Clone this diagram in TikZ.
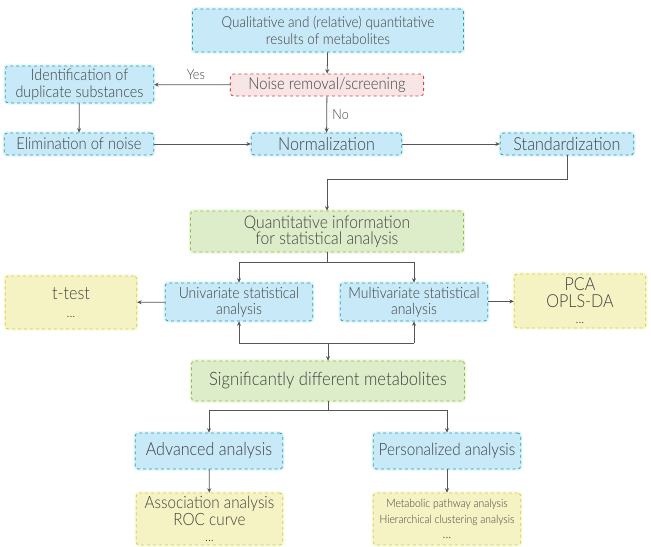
\documentclass[tikz,border=0pt]{standalone}
\usepackage{fontspec}
\setmainfont{Lato Light}[FakeStretch=0.9]
\usepackage{xcolor}
\definecolor{txtgray}{HTML}{404040}
\definecolor{linegray}{HTML}{555555}
\definecolor{bluefill}{HTML}{C8E9F8}
\definecolor{blueline}{HTML}{22A3AA}
\definecolor{greenfill}{HTML}{DDEDC9}
\definecolor{greenline}{HTML}{86C23A}
\definecolor{yellowfill}{HTML}{F5F3C3}
\definecolor{yellowline}{HTML}{CDD236}
\definecolor{redfill}{HTML}{F8E6E6}
\definecolor{redline}{HTML}{DD3A44}
\usetikzlibrary{arrows.meta,positioning}
\newcommand{\moredots}{{\fontsize{14}{14}\selectfont...}}

\begin{document}
\begin{tikzpicture}[x=1bp, y=-1bp,
    >={Stealth[length=4.5pt,width=4pt]},
    box/.style={rounded corners=3pt, dashed, line width=0.8pt, align=center,
        inner sep=1pt, text=txtgray},
    bluebox/.style={box, draw=blueline, fill=bluefill,
        preaction={draw=bluefill!55, solid, line width=3.5pt}},
    greenbox/.style={box, draw=greenline, fill=greenfill,
        preaction={draw=greenfill!55, solid, line width=3.5pt}},
    yellowbox/.style={box, draw=yellowline, fill=yellowfill,
        preaction={draw=yellowfill!55, solid, line width=3.5pt}},
    redbox/.style={box, draw=redline, fill=redfill},
    arr/.style={->, linegray, line width=0.8pt},
    lbl/.style={text=txtgray, font=\fontsize{14}{16}\selectfont}]
    \useasboundingbox (0,0) rectangle (651,547);
    % data preprocessing
    \node[bluebox, minimum width=272, minimum height=43,
        font=\fontsize{15}{16.5}\selectfont] (top) at (328,30.5)
        {Qualitative and (relative) quantitative\\results of metabolites};
    \node[redbox, minimum width=194, minimum height=22,
        font=\fontsize{16.5}{18}\selectfont] (noise) at (327,85)
        {Noise removal/screening};
    \node[bluebox, minimum width=149, minimum height=37,
        font=\fontsize{16}{17}\selectfont] (ident) at (79.5,84.5)
        {Identification of\\duplicate substances};
    \node[bluebox, minimum width=150, minimum height=22,
        font=\fontsize{16.5}{18}\selectfont] (elim) at (79,144)
        {Elimination of noise};
    \node[bluebox, minimum width=151, minimum height=22,
        font=\fontsize{18}{19}\selectfont] (norm) at (326.5,144)
        {Normalization};
    \node[bluebox, minimum width=134, minimum height=22,
        font=\fontsize{18}{19}\selectfont] (std) at (567,144)
        {Standardization};
    \draw[arr] (top) -- (noise);
    \draw[arr] (noise) -- node[lbl, above=1pt, pos=0.45] {Yes} (ident);
    \draw[arr] (noise) -- node[lbl, right=2pt] {No} (norm);
    \draw[arr] (ident) -- (elim);
    \draw[arr] (elim) -- (norm);
    \draw[arr] (norm) -- (std);
    % statistical analysis
    \coordinate (bend1) at (0,179);
    \node[greenbox, minimum width=274, minimum height=41,
        font=\fontsize{17.5}{16}\selectfont] (quant) at (327,231.5)
        {Quantitative information\\for statistical analysis};
    \draw[arr] (std.south) -- (std.south |- bend1) -| (quant.north);
    \node[bluebox, minimum width=148, minimum height=38,
        font=\fontsize{15.5}{16}\selectfont] (uni) at (239,302)
        {Univariate statistical\\analysis};
    \node[bluebox, minimum width=148, minimum height=38,
        font=\fontsize{15.5}{16}\selectfont] (multi) at (414,302)
        {Multivariate statistical\\analysis};
    \node[yellowbox, minimum width=132, minimum height=53,
        font=\fontsize{18}{18}\selectfont] (ttest) at (71,302.5)
        {t-test\\\moredots};
    \node[yellowbox, minimum width=132, minimum height=54,
        font=\fontsize{18}{16.5}\selectfont] (pca) at (580,301)
        {PCA\\OPLS-DA\\\moredots};
    \coordinate (split1) at (0,262);
    \draw[arr] (quant.south) -- (quant.south |- split1) -| (uni.north);
    \draw[arr] (quant.south |- split1) -| (multi.north);
    \draw[arr] (uni) -- (ttest);
    \draw[arr] (multi) -- (pca);
    % significant metabolites
    \node[greenbox, minimum width=274, minimum height=40,
        font=\fontsize{18.5}{20}\selectfont] (sig) at (328,381)
        {Significantly different metabolites};
    \coordinate (join1) at (0,343);
    \draw[linegray, line width=0.8pt] (uni.south |- join1) -- (multi.south |- join1);
    \draw[arr] (uni.south |- join1) -- (uni.south);
    \draw[arr] (multi.south |- join1) -- (multi.south);
    \draw[arr] (sig.north |- join1) -- (sig.north);
    % further analysis
    \node[bluebox, minimum width=148, minimum height=36,
        font=\fontsize{18}{20}\selectfont] (adv) at (209,451)
        {Advanced analysis};
    \node[bluebox, minimum width=148, minimum height=36,
        font=\fontsize{17}{20}\selectfont] (pers) at (447,451)
        {Personalized analysis};
    \node[yellowbox, minimum width=147, minimum height=52,
        font=\fontsize{17}{16.5}\selectfont] (assoc) at (209.5,519)
        {Association analysis\\ROC curve\\\moredots};
    \node[yellowbox, minimum width=148, minimum height=52,
        font=\fontsize{11.5}{15.5}\selectfont] (metab) at (447,519)
        {Metabolic pathway analysis\\Hierarchical clustering analysis\\\moredots};
    \coordinate (split2) at (0,410);
    \draw[arr] (sig.south) -- (sig.south |- split2) -| (adv.north);
    \draw[arr] (sig.south |- split2) -| (pers.north);
    \draw[arr] (adv) -- (assoc);
    \draw[arr] (pers) -- (metab);
\end{tikzpicture}
\end{document}
